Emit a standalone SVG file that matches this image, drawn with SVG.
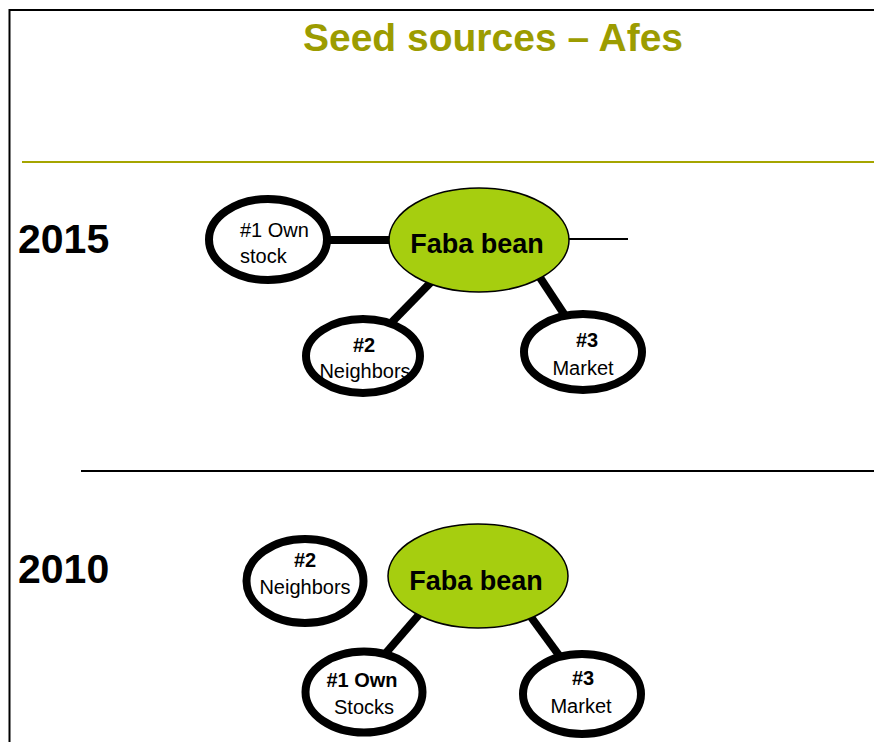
<svg xmlns="http://www.w3.org/2000/svg" width="874" height="742" viewBox="0 0 874 742">
<style>
text{font-family:"Liberation Sans",Arial,sans-serif;fill:#000}
.title{font-size:39px;font-weight:bold;fill:#9C9C00}
.year{font-size:41px;font-weight:bold}
.hub{font-size:27px;font-weight:bold}
.lbl{font-size:20px}
.b{font-weight:bold}
.src{fill:#fff;stroke:#000;stroke-width:8}
.core{fill:#A6CE0F;stroke:#000;stroke-width:1.5}
.conn{stroke:#000;stroke-width:8;fill:none}
</style>
<rect x="0" y="0" width="874" height="742" fill="#fff"/>
<path d="M9.5,742 V10 H874" fill="none" stroke="#000" stroke-width="2"/>
<text class="title" x="493" y="51" text-anchor="middle">Seed sources – Afes</text>
<line x1="22" y1="162" x2="874" y2="162" stroke="#A5A500" stroke-width="2"/>
<line x1="81" y1="471" x2="874" y2="471" stroke="#000" stroke-width="2"/>
<text class="year" x="18" y="253">2015</text>
<text class="year" x="18" y="583">2010</text>
<g id="connectors">
<line class="conn" x1="320" y1="240" x2="395" y2="240"/>
<line x1="560" y1="239" x2="628" y2="239" stroke="#000" stroke-width="2"/>
<line class="conn" x1="436" y1="277" x2="392" y2="322"/>
<line class="conn" x1="535" y1="270" x2="568" y2="320"/>
<line class="conn" x1="423" y1="610" x2="385" y2="654"/>
<line class="conn" x1="528" y1="613" x2="561" y2="658"/>
</g>
<g id="own2015">
<ellipse class="src" cx="268" cy="239.5" rx="59" ry="40.5"/>
<text class="lbl" x="240" y="237">#1 Own</text>
<text class="lbl" x="240" y="263">stock</text>
</g>
<g id="faba2015">
<ellipse class="core" cx="479" cy="240" rx="90" ry="52"/>
<text class="hub" x="477" y="253" text-anchor="middle">Faba bean</text>
</g>
<g id="neighbors2015">
<ellipse class="src" cx="363" cy="356" rx="57" ry="37"/>
<text class="lbl b" x="364" y="352" text-anchor="middle">#2</text>
<text class="lbl" x="365" y="378" text-anchor="middle">Neighbors</text>
</g>
<g id="market2015">
<ellipse class="src" cx="583" cy="352" rx="59" ry="38"/>
<text class="lbl b" x="587" y="347" text-anchor="middle">#3</text>
<text class="lbl" x="583" y="375" text-anchor="middle">Market</text>
</g>
<g id="neighbors2010">
<ellipse class="src" cx="305" cy="581" rx="58.5" ry="42"/>
<text class="lbl b" x="305" y="567" text-anchor="middle">#2</text>
<text class="lbl" x="305" y="594" text-anchor="middle">Neighbors</text>
</g>
<g id="faba2010">
<ellipse class="core" cx="478" cy="576" rx="90" ry="52"/>
<text class="hub" x="476" y="590" text-anchor="middle">Faba bean</text>
</g>
<g id="own2010">
<ellipse class="src" cx="364" cy="692" rx="58.5" ry="40.5"/>
<text class="lbl b" x="362" y="687" text-anchor="middle">#1 Own</text>
<text class="lbl" x="364" y="714" text-anchor="middle">Stocks</text>
</g>
<g id="market2010">
<ellipse class="src" cx="582" cy="694" rx="59" ry="40"/>
<text class="lbl b" x="583" y="685" text-anchor="middle">#3</text>
<text class="lbl" x="581" y="713" text-anchor="middle">Market</text>
</g>
</svg>
